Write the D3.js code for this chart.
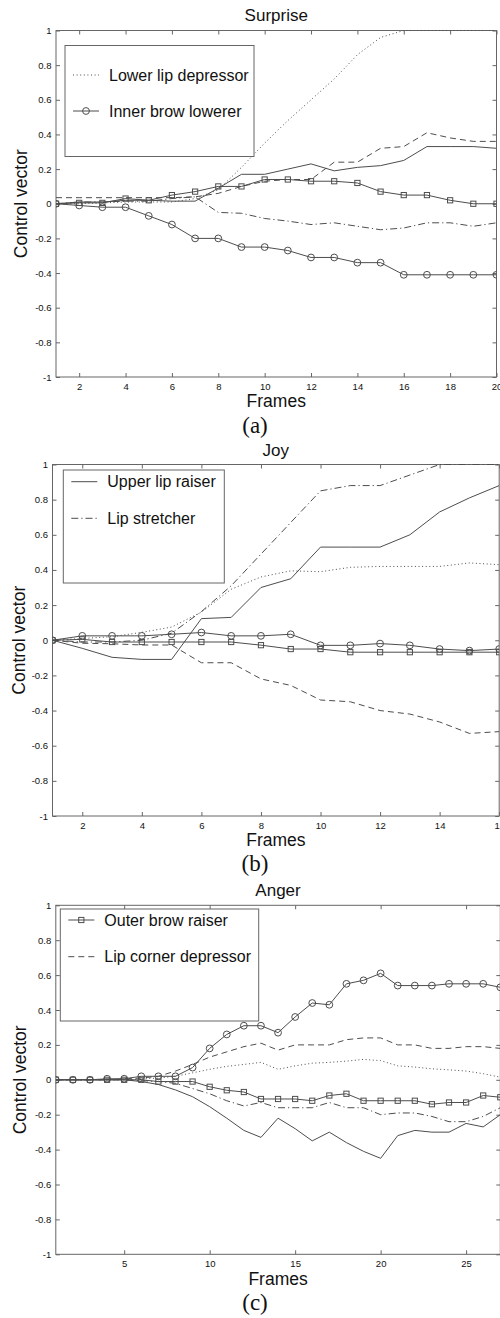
<!DOCTYPE html>
<html>
<head>
<meta charset="utf-8">
<script src="https://cdn.jsdelivr.net/npm/d3@7"></script>
<style>
  body { margin: 0; background: #fff; }
  svg { display: block; }
</style>
</head>
<body>
<svg id="fig" width="500" height="1318"></svg>
<script>
// ---------- data: control-vector trajectories per expression ----------
const surpriseFrames = [1,2,3,4,5,6,7,8,9,10,11,12,13,14,15,16,17,18,19,20];
const surpriseLowerLipDepressor = [0,0,0.005,0.01,0.01,0.01,0.03,0.08,0.21,0.35,0.48,0.60,0.72,0.86,0.96,1.0,1.0,1.0,1.0,1.0];
const surpriseInnerBrowLowerer = [0,-0.01,-0.02,-0.02,-0.07,-0.12,-0.2,-0.2,-0.25,-0.25,-0.27,-0.31,-0.31,-0.34,-0.34,-0.41,-0.41,-0.41,-0.41,-0.41];
const surpriseSquares = [0,0.005,0.005,0.03,0.02,0.05,0.07,0.1,0.1,0.14,0.14,0.13,0.13,0.12,0.07,0.05,0.05,0.02,0,0];
const surpriseSolid = [0,0.01,0.01,0.02,0.02,0.015,0.015,0.09,0.17,0.17,0.2,0.23,0.19,0.21,0.22,0.25,0.33,0.33,0.33,0.32];
const surpriseDashed = [0.035,0.035,0.035,0.035,0.035,0.035,0.04,0.06,0.1,0.13,0.14,0.14,0.24,0.24,0.32,0.33,0.41,0.38,0.36,0.36];
const surpriseDashDot = [0,0.01,0.01,0.015,0.015,0.03,0.04,-0.05,-0.055,-0.085,-0.1,-0.12,-0.11,-0.13,-0.15,-0.14,-0.11,-0.11,-0.13,-0.11];
const surpriseXTicks = [2,4,6,8,10,12,14,16,18,20];

const joyFrames = [1,2,3,4,5,6,7,8,9,10,11,12,13,14,15,16];
const joyUpperLipRaiser = [0,-0.046,-0.097,-0.109,-0.109,0.123,0.13,0.3,0.35,0.53,0.53,0.53,0.6,0.73,0.81,0.88];
const joyLipStretcher = [0,-0.01,-0.01,0.0,0.04,0.163,0.31,0.49,0.67,0.85,0.88,0.88,0.94,1.0,1.0,1.0];
const joyDotted = [0,0.01,0.02,0.045,0.075,0.16,0.29,0.36,0.395,0.39,0.415,0.42,0.42,0.42,0.44,0.43];
const joyCircles = [0,0.025,0.025,0.025,0.034,0.044,0.025,0.025,0.034,-0.029,-0.029,-0.019,-0.029,-0.05,-0.059,-0.05];
const joySquares = [0,0.005,-0.01,-0.01,-0.01,-0.01,-0.01,-0.028,-0.05,-0.05,-0.068,-0.068,-0.068,-0.068,-0.068,-0.068];
const joyDashed = [0,-0.017,-0.02,-0.027,-0.027,-0.128,-0.128,-0.22,-0.257,-0.34,-0.35,-0.4,-0.42,-0.465,-0.53,-0.52];
const joyXTicks = [2,4,6,8,10,12,14,16];

const angerFrames = [1,2,3,4,5,6,7,8,9,10,11,12,13,14,15,16,17,18,19,20,21,22,23,24,25,26,27];
const angerOuterBrowRaiser = [0,0,0,0,0,0,-0.01,-0.01,-0.01,-0.04,-0.06,-0.07,-0.11,-0.11,-0.11,-0.12,-0.09,-0.08,-0.12,-0.12,-0.12,-0.12,-0.14,-0.13,-0.13,-0.09,-0.10];
const angerLipCornerDepressor = [0,0,0,0,0.005,0.01,0.02,0.05,0.088,0.13,0.16,0.19,0.21,0.17,0.2,0.2,0.2,0.23,0.24,0.24,0.2,0.2,0.18,0.18,0.19,0.19,0.18];
const angerCircles = [0,0,0,0.006,0.006,0.02,0.02,0.02,0.07,0.18,0.26,0.31,0.31,0.27,0.36,0.44,0.43,0.55,0.57,0.61,0.54,0.54,0.54,0.55,0.55,0.55,0.53];
const angerDotted = [0,0,0,0,0,0.005,0.01,0.02,0.04,0.06,0.077,0.088,0.1,0.06,0.08,0.095,0.1,0.107,0.117,0.11,0.08,0.073,0.063,0.057,0.05,0.035,0.015];
const angerDashDot = [0,0,0,0,0,-0.005,-0.01,-0.02,-0.05,-0.08,-0.12,-0.15,-0.13,-0.16,-0.16,-0.16,-0.13,-0.16,-0.16,-0.2,-0.19,-0.19,-0.21,-0.24,-0.24,-0.21,-0.16];
const angerSolid = [0,0,0,0,0,-0.01,-0.027,-0.058,-0.097,-0.154,-0.22,-0.29,-0.33,-0.22,-0.28,-0.35,-0.30,-0.36,-0.41,-0.45,-0.32,-0.29,-0.30,-0.30,-0.25,-0.27,-0.20];
const angerXTicks = [5,10,15,20,25];

const yTicks = [-1,-0.8,-0.6,-0.4,-0.2,0,0.2,0.4,0.6,0.8,1];
const yTickLabels = ["-1","-0.8","-0.6","-0.4","-0.2","0","0.2","0.4","0.6","0.8","1"];

// ---------- styling ----------
const LINE = "#4d4d4d";
const FRAME = "#666";
const SANS = "'Liberation Sans', Arial, Helvetica, sans-serif";
const SERIF = "'Liberation Serif', 'DejaVu Serif', serif";
const dashes = { solid: null, dashed: "6,4", dotted: "1,2.6", dashdot: "7,3,1.2,3" };

const panels = [
  {
    title: "Surprise", caption: "(a)", frames: surpriseFrames, xTicks: surpriseXTicks,
    box: { left: 56, right: 496.5, top: 30.5, bottom: 377 },
    titleY: 21, framesY: 407, captionX: 255, captionY: 433, ylabelX: 26.5,
    legendBox: { x: 65, y: 45.5, w: 189, h: 111 }, legendRows: [29.5, 65.5],
    series: [
      { values: surpriseLowerLipDepressor, dash: "dotted", name: "Lower lip depressor" },
      { values: surpriseInnerBrowLowerer, dash: "solid", marker: "circle", name: "Inner brow lowerer" },
      { values: surpriseSquares, dash: "solid", marker: "square" },
      { values: surpriseSolid, dash: "solid" },
      { values: surpriseDashed, dash: "dashed" },
      { values: surpriseDashDot, dash: "dashdot" }
    ]
  },
  {
    title: "Joy", caption: "(b)", frames: joyFrames, xTicks: joyXTicks,
    box: { left: 52.5, right: 499.2, top: 464.5, bottom: 816 },
    titleY: 455.5, framesY: 846, captionX: 255, captionY: 871, ylabelX: 24.5,
    legendBox: { x: 63.3, y: 470, w: 161, h: 113 }, legendRows: [11.7, 48.3],
    series: [
      { values: joyUpperLipRaiser, dash: "solid", name: "Upper lip raiser" },
      { values: joyLipStretcher, dash: "dashdot", name: "Lip stretcher" },
      { values: joyDotted, dash: "dotted" },
      { values: joyCircles, dash: "solid", marker: "circle" },
      { values: joySquares, dash: "solid", marker: "square" },
      { values: joyDashed, dash: "dashed" }
    ]
  },
  {
    title: "Anger", caption: "(c)", frames: angerFrames, xTicks: angerXTicks,
    box: { left: 55.8, right: 500.3, top: 905.3, bottom: 1254.3 },
    titleY: 896, framesY: 1285, captionX: 255, captionY: 1310, ylabelX: 25.5,
    legendBox: { x: 60.3, y: 909, w: 198.4, h: 112 }, legendRows: [11, 47.7],
    series: [
      { values: angerOuterBrowRaiser, dash: "solid", marker: "square", name: "Outer brow raiser" },
      { values: angerLipCornerDepressor, dash: "dashed", name: "Lip corner depressor" },
      { values: angerCircles, dash: "solid", marker: "circle" },
      { values: angerDotted, dash: "dotted" },
      { values: angerDashDot, dash: "dashdot" },
      { values: angerSolid, dash: "solid" }
    ]
  }
];

const svg = d3.select("#fig");

function drawMarker(g, kind, x, y) {
  if (kind === "circle") {
    g.append("circle").attr("cx", x).attr("cy", y).attr("r", 3.4)
      .attr("fill", "none").attr("stroke", LINE).attr("stroke-width", 1);
  } else if (kind === "square") {
    g.append("rect").attr("x", x - 2.6).attr("y", y - 2.6).attr("width", 5.2).attr("height", 5.2)
      .attr("fill", "none").attr("stroke", LINE).attr("stroke-width", 1);
  }
}

panels.forEach((p, pi) => {
  const b = p.box;
  const x = d3.scaleLinear().domain([p.frames[0], p.frames[p.frames.length - 1]]).range([b.left, b.right]);
  const y = d3.scaleLinear().domain([-1, 1]).range([b.bottom, b.top]);
  const g = svg.append("g");

  const clipId = "clip" + pi;
  svg.append("clipPath").attr("id", clipId)
    .append("rect").attr("x", b.left).attr("y", b.top - 1)
    .attr("width", b.right - b.left).attr("height", b.bottom - b.top + 2);

  // frame
  g.append("rect").attr("x", b.left).attr("y", b.top)
    .attr("width", b.right - b.left).attr("height", b.bottom - b.top)
    .attr("fill", "none").attr("stroke", FRAME).attr("stroke-width", 1);

  // axes with inward ticks on all four sides
  const tick = 4;
  const xb = d3.axisBottom(x).tickValues(p.xTicks).tickSize(-tick).tickPadding(6).tickFormat(d3.format("d"));
  const xt = d3.axisTop(x).tickValues(p.xTicks).tickSize(-tick).tickFormat("");
  const yl = d3.axisLeft(y).tickValues(yTicks).tickSize(-tick).tickPadding(4.5)
    .tickFormat((d, i) => yTickLabels[i]);
  const yr = d3.axisRight(y).tickValues(yTicks).tickSize(-tick).tickFormat("");

  const axes = [
    g.append("g").attr("transform", `translate(0,${b.bottom})`).call(xb),
    g.append("g").attr("transform", `translate(0,${b.top})`).call(xt),
    g.append("g").attr("transform", `translate(${b.left},0)`).call(yl),
    g.append("g").attr("transform", `translate(${b.right},0)`).call(yr)
  ];
  axes.forEach(a => {
    a.select(".domain").remove();
    a.selectAll(".tick line").attr("stroke", FRAME);
    a.selectAll(".tick text").attr("fill", "#111").style("font-family", SANS).style("font-size", "9.5px");
  });

  // series
  const plot = g.append("g").attr("clip-path", `url(#${clipId})`);
  const line = d3.line().x((d, i) => x(p.frames[i])).y(d => y(d));
  p.series.forEach(s => {
    plot.append("path").attr("d", line(s.values))
      .attr("fill", "none").attr("stroke", LINE).attr("stroke-width", 1)
      .attr("stroke-dasharray", dashes[s.dash]);
  });
  p.series.filter(s => s.marker).forEach(s => {
    s.values.forEach((v, i) => drawMarker(plot, s.marker, x(p.frames[i]), y(v)));
  });

  // legend
  const lb = p.legendBox;
  g.append("rect").attr("x", lb.x).attr("y", lb.y).attr("width", lb.w).attr("height", lb.h)
    .attr("fill", "#fff").attr("stroke", FRAME).attr("stroke-width", 1);
  p.series.filter(s => s.name).forEach((s, k) => {
    const ly = lb.y + p.legendRows[k];
    g.append("line").attr("x1", lb.x + 8).attr("x2", lb.x + 34).attr("y1", ly).attr("y2", ly)
      .attr("stroke", LINE).attr("stroke-width", 1).attr("stroke-dasharray", dashes[s.dash]);
    if (s.marker) drawMarker(g, s.marker, lb.x + 21, ly);
    g.append("text").attr("x", lb.x + 44).attr("y", ly + 5.6)
      .attr("fill", "#111").style("font-family", SANS).style("font-size", "16px").text(s.name);
  });

  const cx = (b.left + b.right) / 2;
  g.append("text").attr("x", cx).attr("y", p.titleY).attr("text-anchor", "middle")
    .attr("fill", "#111").style("font-family", SANS).style("font-size", "17px").text(p.title);
  g.append("text").attr("x", cx).attr("y", p.framesY).attr("text-anchor", "middle")
    .attr("fill", "#111").style("font-family", SANS).style("font-size", "17.5px").text("Frames");
  g.append("text").attr("transform", `translate(${p.ylabelX},${(b.top + b.bottom) / 2}) rotate(-90)`)
    .attr("text-anchor", "middle").attr("fill", "#111")
    .style("font-family", SANS).style("font-size", "17.5px").text("Control vector");
  g.append("text").attr("x", p.captionX).attr("y", p.captionY).attr("text-anchor", "middle")
    .attr("fill", "#111").style("font-family", SERIF).style("font-size", "23px").text(p.caption);
});
</script>
</body>
</html>
